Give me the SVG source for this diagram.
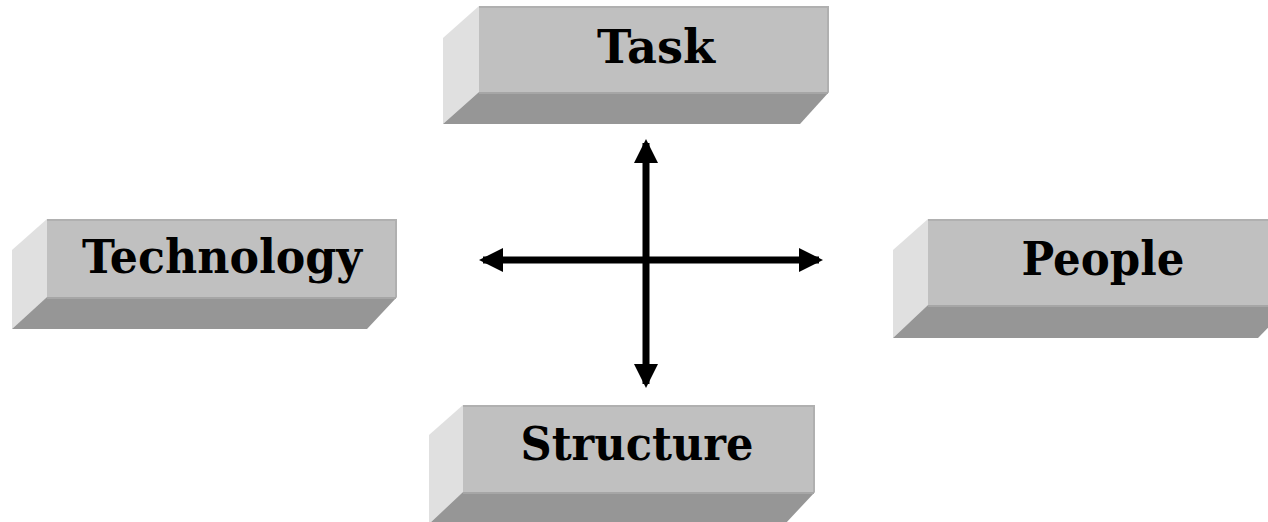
<svg xmlns="http://www.w3.org/2000/svg" width="1268" height="522" viewBox="0 0 1268 522">
<defs>
<style>
.front{fill:#c0c0c0;}
.edge{fill:none;stroke:#b0b0b0;stroke-width:2;}
.side{fill:#e0e0e0;}
.bottom{fill:#969696;}
.hl{stroke:#a6a6a6;stroke-width:2;}
.lbl{font-family:"DejaVu Serif",serif;font-weight:bold;font-size:46px;fill:#000;text-anchor:middle;}
.conn{stroke:#000;stroke-width:7;fill:none;}
</style>
<marker id="ah" viewBox="0 0 24 24" refX="20" refY="12" markerWidth="24" markerHeight="24" markerUnits="userSpaceOnUse" orient="auto-start-reverse">
<path d="M0,0 L24,12 L0,24 Z" fill="#000"/>
</marker>
</defs>
<rect width="1268" height="522" fill="#fff"/>
<g id="task">
<polygon class="side" points="479,6 443,38 443,124 479,92"/>
<rect class="front" x="479" y="6" width="350" height="86"/>
<polyline class="edge" points="479,7 828,7 828,92"/>
<polygon class="bottom" points="479,92 829,92 800,124 443,124"/>
<line class="hl" x1="479" y1="93" x2="828" y2="93"/>
<text class="lbl" x="656" y="63" textLength="118" lengthAdjust="spacingAndGlyphs">Task</text>
</g>
<g id="technology">
<polygon class="side" points="47,219 12,250 12,329 47,297"/>
<rect class="front" x="47" y="219" width="350" height="78"/>
<polyline class="edge" points="47,220 396,220 396,297"/>
<polygon class="bottom" points="47,297 397,297 367,329 12,329"/>
<line class="hl" x1="47" y1="298" x2="396" y2="298"/>
<text class="lbl" x="222" y="273" textLength="280" lengthAdjust="spacingAndGlyphs">Technology</text>
</g>
<g id="people">
<polygon class="side" points="928,219 893,250 893,338 928,305"/>
<rect class="front" x="928" y="219" width="360" height="86"/>
<line class="edge" x1="928" y1="220" x2="1288" y2="220"/>
<polygon class="bottom" points="928,305 1290,305 1258,338 893,338"/>
<line class="hl" x1="928" y1="306" x2="1288" y2="306"/>
<text class="lbl" x="1103" y="275" textLength="163" lengthAdjust="spacingAndGlyphs">People</text>
</g>
<g id="structure">
<polygon class="side" points="463,405 429,435 429,524 463,492"/>
<rect class="front" x="463" y="405" width="352" height="87"/>
<polyline class="edge" points="463,406 814,406 814,492"/>
<polygon class="bottom" points="463,492 815,492 785,524 429,524"/>
<line class="hl" x1="463" y1="493" x2="814" y2="493"/>
<text class="lbl" x="637" y="460" textLength="233" lengthAdjust="spacingAndGlyphs">Structure</text>
</g>
<g id="connectors">
<line class="conn" x1="646" y1="143" x2="646" y2="384" marker-start="url(#ah)" marker-end="url(#ah)"/>
<line class="conn" x1="483" y1="260" x2="819" y2="260" marker-start="url(#ah)" marker-end="url(#ah)"/>
</g>
</svg>
